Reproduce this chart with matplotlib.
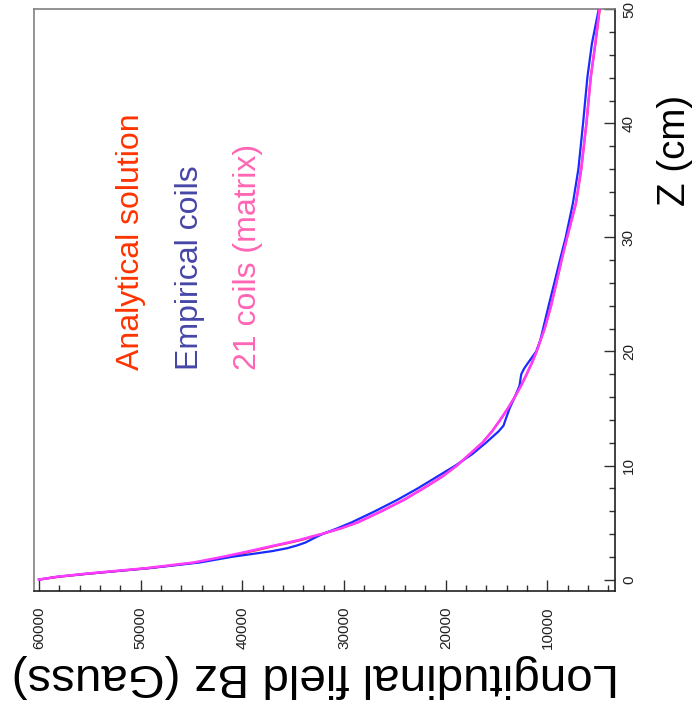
import matplotlib
matplotlib.use("Agg")
import matplotlib.pyplot as plt
from matplotlib.ticker import MultipleLocator, FixedLocator

plt.rcParams['font.family'] = ['Liberation Sans', 'DejaVu Sans']

# ---- data (Z in cm, Bz in Gauss) ----
z_cm = [0, 0.25, 0.5, 0.75, 1, 1.5, 2, 2.25, 2.5, 2.75, 3, 3.25, 3.5, 3.75, 4,
        4.5, 5, 6, 7, 8, 9, 10, 11, 12, 13, 13.5, 14, 15, 16, 17, 18, 18.5, 19,
        20, 21, 22, 24, 26, 28, 30, 33, 36, 40, 44, 47, 50]

bz_analytical = [60000, 58000, 55300, 52300, 49200, 44500, 41600, 40300, 39000,
                 37800, 36600, 35300, 34100, 33150, 32150, 30300, 28700, 26300,
                 24100, 22200, 20400, 18900, 17650, 16400, 15450, 15050, 14650,
                 13900, 13220, 12600, 12050, 11800, 11530, 11070, 10680, 10280,
                 9650, 9130, 8620, 8070, 7200, 6680, 6170, 5750, 5280, 4860]

bz_empirical = [60000, 58200, 55400, 52300, 49200, 44200, 41000, 39000, 37050,
                35600, 34600, 33800, 33250, 32700, 32100, 30650, 29300, 26950,
                24750, 22750, 20900, 19050, 17400, 16050, 14800, 14320, 14130,
                13730, 13220, 12750, 12580, 12300, 11910, 11110, 10700, 10430,
                9890, 9330, 8780, 8210, 7500, 6960, 6500, 6080, 5630, 4960]

bz_matrix = [60000, 58200, 55600, 52600, 49500, 44800, 41900, 40600, 39300,
             38050, 36800, 35500, 34300, 33300, 32200, 30300, 28700, 26300,
             24100, 22200, 20400, 18900, 17650, 16400, 15450, 15050, 14650,
             13900, 13220, 12600, 12050, 11800, 11530, 11070, 10680, 10280,
             9650, 9130, 8620, 8070, 7200, 6680, 6170, 5750, 5300, 4890]

series_names = ["Analytical solution", "Empirical coils", "21 coils (matrix)"]
bz_ticks = [10000, 20000, 30000, 40000, 50000, 60000]
z_ticks = [0, 10, 20, 30, 40, 50]

W, H = 696, 716
fig = plt.figure(figsize=(W / 100, H / 100), dpi=100)
ax = fig.add_axes([34 / W, 1 - 591 / H, (615 - 34) / W, (591 - 9.3) / H])

# chart is rotated: horizontal = Bz (inverted), vertical = Z
ax.plot(bz_analytical, z_cm, color='#ff2a00', lw=1.6, zorder=3)
ax.plot(bz_empirical, z_cm, color='#1a2bff', lw=1.6, zorder=4)
ax.plot(bz_matrix, z_cm, color='#ff3cff', lw=1.8, zorder=5)

ax.set_xlim(60490, 3360)
ax.set_ylim(-1.0, 50)

# spines
for side in ('top', 'left'):
    ax.spines[side].set_color('#808080')
    ax.spines[side].set_linewidth(1.2)
for side in ('bottom', 'right'):
    ax.spines[side].set_color('#202020')
    ax.spines[side].set_linewidth(1.2)

ax.xaxis.set_major_locator(FixedLocator(bz_ticks))
ax.xaxis.set_minor_locator(MultipleLocator(2000))
ax.yaxis.set_major_locator(FixedLocator(z_ticks))
ax.yaxis.set_minor_locator(MultipleLocator(2))
ax.yaxis.tick_right()

ax.tick_params(axis='x', which='both', direction='in', bottom=True, top=False,
               colors='#303030', labelcolor='#202020')
ax.tick_params(axis='x', which='major', length=8, width=1.0, pad=11,
               labelsize=11, labelrotation=90)
ax.tick_params(axis='x', which='minor', length=4.3, width=1.0)
ax.tick_params(axis='y', which='both', direction='in', right=True, left=False,
               colors='#303030', labelcolor='#202020')
ax.tick_params(axis='y', which='major', length=8, width=1.0, pad=5,
               labelsize=11, labelrotation=90)
ax.tick_params(axis='y', which='minor', length=4.3, width=1.0)
for lab in ax.get_yticklabels():
    lab.set_verticalalignment('center')

# axis titles (rotated with the chart)
fig.text(315.5 / W, 1 - 664 / H, "Longitudinal field Bz (Gauss)", rotation=180,
         rotation_mode='anchor', ha='center', va='baseline', fontsize=34.2,
         color='black')
fig.text(685 / W, 1 - 150 / H, "Z (cm)", rotation=90, rotation_mode='anchor',
         ha='center', va='baseline', fontsize=27.7, color='black')

# legend texts
legend_colors = ['#ff3300', '#4646a8', '#ff66b4']
legend_x = [139.3, 198.3, 256.0]
for name, col, xp in zip(series_names, legend_colors, legend_x):
    fig.text(xp / W, 1 - 370 / H, name, rotation=90, rotation_mode='anchor',
             ha='left', va='baseline', fontsize=23, color=col)

fig.savefig("out.png", dpi=100)
